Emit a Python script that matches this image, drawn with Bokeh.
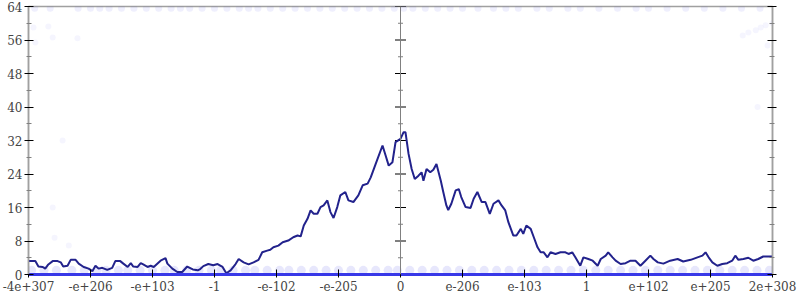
from bokeh.plotting import figure
from bokeh.models import Range1d, FixedTicker, LinearAxis, Span
from bokeh.embed import file_html
from bokeh.resources import INLINE

# ---- data ----
x_tick_pos = [0, 1, 2, 3, 4, 5, 6, 7, 8, 9, 10, 11, 12]
x_tick_labels = ["-4e+307", "-e+206", "-e+103", "-1", "-e-102", "-e-205", "0",
                 "e-206", "e-103", "1", "e+102", "e+205", "2e+308"]
y_major = [0, 8, 16, 24, 32, 40, 48, 56, 64]
y_minor = [4, 12, 20, 28, 36, 44, 52, 60]

line_x = [0.00, 0.11, 0.16, 0.23, 0.27, 0.32, 0.39, 0.47, 0.52, 0.56, 0.63, 0.68, 0.76, 0.81,
          0.89, 0.97, 1.03, 1.08, 1.13, 1.19, 1.27, 1.35, 1.40, 1.48, 1.53, 1.60, 1.65, 1.69,
          1.76, 1.81, 1.85, 1.92, 1.97, 2.02, 2.13, 2.21, 2.24, 2.32, 2.40, 2.48, 2.56, 2.65,
          2.73, 2.77, 2.82, 2.90, 2.98, 3.05, 3.13, 3.19, 3.26, 3.34, 3.39, 3.47, 3.55, 3.63,
          3.71, 3.77, 3.85, 3.90, 3.95, 4.03, 4.10, 4.19, 4.27, 4.34, 4.39, 4.44, 4.50, 4.55,
          4.60, 4.66, 4.71, 4.76, 4.82, 4.87, 4.92, 4.98, 5.03, 5.11, 5.16, 5.24, 5.32, 5.39,
          5.47, 5.52, 5.60, 5.71, 5.76, 5.81, 5.87, 5.92, 6.00, 6.05, 6.08, 6.13, 6.18, 6.23,
          6.29, 6.34, 6.37, 6.42, 6.48, 6.53, 6.58, 6.65, 6.69, 6.74, 6.77, 6.82, 6.89, 6.94,
          6.98, 7.05, 7.13, 7.18, 7.24, 7.31, 7.37, 7.44, 7.50, 7.58, 7.63, 7.69, 7.74, 7.82,
          7.87, 7.94, 7.98, 8.03, 8.10, 8.15, 8.21, 8.26, 8.31, 8.37, 8.42, 8.50, 8.58, 8.66,
          8.71, 8.77, 8.82, 8.90, 8.95, 9.03, 9.10, 9.18, 9.23, 9.31, 9.35, 9.42, 9.47, 9.55,
          9.63, 9.71, 9.79, 9.87, 9.95, 10.03, 10.08, 10.15, 10.24, 10.35, 10.47, 10.56, 10.68,
          10.79, 10.87, 10.92, 10.97, 11.03, 11.11, 11.19, 11.27, 11.35, 11.40, 11.45, 11.53,
          11.61, 11.69, 11.77, 11.85, 11.94, 12.00]
line_y = [3.2, 3.2, 1.9, 1.8, 1.4, 2.4, 3.2, 3.2, 2.9, 1.9, 2.1, 3.5, 3.5, 2.6,
          1.8, 1.4, 0.8, 2.1, 1.4, 1.6, 1.1, 1.6, 3.2, 3.2, 2.6, 1.8, 2.7, 1.9,
          1.8, 2.7, 2.4, 1.8, 2.1, 1.8, 3.3, 3.9, 2.6, 1.4, 0.6, 0.6, 1.9, 1.2,
          1.0, 1.3, 2.0, 2.5, 2.2, 2.5, 1.8, 0.3, 1.0, 2.5, 3.7, 2.9, 2.4, 2.9,
          3.5, 5.3, 5.7, 5.9, 6.5, 6.9, 7.7, 8.1, 8.9, 9.3, 9.1, 11.7, 13.3, 15.3,
          14.5, 14.5, 16.1, 16.5, 17.7, 14.9, 13.5, 16.1, 18.9, 19.7, 17.7, 17.3, 18.9, 21.3,
          21.7, 23.2, 26.4, 30.8, 28.4, 26.0, 26.8, 31.6, 32.4, 34.0, 34.0, 28.8, 25.2, 22.8,
          23.6, 24.4, 22.4, 25.2, 24.4, 25.0, 26.4, 22.4, 19.7, 16.5, 15.4, 16.9, 20.1, 20.4,
          18.5, 16.1, 15.9, 18.1, 19.7, 17.3, 17.3, 14.5, 16.9, 17.7, 16.5, 15.3, 12.5, 9.3,
          9.3, 10.9, 9.7, 11.7, 10.9, 8.9, 6.5, 5.3, 5.3, 4.1, 5.3, 4.9, 5.3, 5.3,
          4.9, 5.3, 4.1, 2.1, 4.1, 3.7, 3.3, 2.1, 3.7, 4.5, 5.3, 4.1, 3.3, 2.5,
          2.7, 3.3, 3.3, 2.1, 3.3, 4.5, 3.7, 2.9, 2.6, 3.3, 3.7, 3.1, 3.5,
          4.1, 4.5, 5.3, 4.1, 2.9, 2.1, 2.5, 2.7, 3.3, 4.5, 3.5, 3.7,
          4.0, 3.3, 3.7, 4.3, 4.3, 4.3]

# faint scattered points (samples) near the top and bottom edges, plus outliers
top_x = [0.10, 0.35, 0.80, 1.00, 1.15, 1.30, 1.50, 1.70, 1.90, 2.10, 2.30, 2.45, 2.60, 2.80,
         3.00, 3.20, 3.40, 3.55, 3.70, 3.90, 4.10, 4.30, 4.50, 4.70, 4.90, 5.10, 5.30, 5.50,
         5.70, 5.90, 6.05, 6.20, 6.40, 6.60, 6.80, 7.00, 7.25, 7.50, 7.70, 7.90, 8.20, 8.40,
         8.70, 8.90, 9.20, 9.50, 9.80, 10.00, 10.30, 10.60, 10.90, 11.20, 11.50, 11.80]
top_y = [63.6] * len(top_x)
low_x = [0.05, 0.25, 0.45, 0.70, 0.90, 1.10, 1.25, 1.45, 1.60, 1.80, 2.00, 2.20, 2.35, 2.55,
         2.75, 2.95, 3.10, 3.30, 3.50, 3.65, 3.85, 4.05, 4.20, 4.40, 4.60, 4.80, 5.00, 5.20,
         5.40, 5.60, 5.80, 5.95, 6.15, 6.35, 6.55, 6.75, 6.95, 7.15, 7.35, 7.55, 7.75, 7.95,
         8.15, 8.35, 8.55, 8.75, 8.95, 9.15, 9.35, 9.55, 9.75, 9.95, 10.15, 10.35, 10.55,
         10.75, 10.95, 11.15, 11.35, 11.55, 11.75, 11.95]
low_y = [1.0] * len(low_x)
out_x = [0.08, 0.32, 0.11, 0.39, 0.79, 0.39, 0.42, 0.65, 0.55,
         11.52, 11.61, 11.73, 11.81, 11.89, 12.00, 11.92, 11.76]
out_y = [59.0, 59.2, 55.4, 56.6, 56.4, 16.0, 8.8, 6.9, 32.0,
         57.1, 57.8, 58.3, 59.0, 59.5, 60.0, 54.7, 40.0]

# ---- styling ----
FONT = "DejaVu Serif"
GRAY = "#a0a0a0"
LINE_COLOR = "#22228c"
DOT_COLOR = "#3838e8"

p = figure(width=800, height=300, output_backend="svg", toolbar_location=None,
           x_range=Range1d(0, 12), y_range=Range1d(0, 64),
           min_border_left=28, min_border_right=28, min_border_top=6, min_border_bottom=26,
           background_fill_color="white", border_fill_color="white")
p.grid.visible = False
p.outline_line_color = GRAY
p.outline_line_width = 1.5

# left axis
ya = p.yaxis[0]
ya.ticker = FixedTicker(ticks=y_major, minor_ticks=y_minor)
ya.axis_line_color = GRAY
ya.axis_line_width = 1.5
ya.major_tick_in = 5
ya.major_tick_out = 4
ya.minor_tick_in = 3
ya.minor_tick_out = 2
ya.major_tick_line_color = "black"
ya.minor_tick_line_color = "#808080"
ya.major_label_text_font = FONT
ya.major_label_text_font_size = "12px"
ya.major_label_standoff = 2

# right axis (ticks only, no labels drawn)
ra = LinearAxis(ticker=FixedTicker(ticks=y_major, minor_ticks=y_minor))
ra.axis_line_color = GRAY
ra.axis_line_width = 1.5
ra.major_tick_in = 5
ra.major_tick_out = 4
ra.minor_tick_in = 3
ra.minor_tick_out = 2
ra.major_tick_line_color = "black"
ra.minor_tick_line_color = "#808080"
ra.major_label_text_color = None
p.add_layout(ra, "right")

# bottom axis
xa = p.xaxis[0]
xa.ticker = FixedTicker(ticks=x_tick_pos, minor_ticks=[])
xa.major_label_overrides = {t: l for t, l in zip(x_tick_pos, x_tick_labels)}
xa.axis_line_color = DOT_COLOR
xa.axis_line_width = 3
xa.major_tick_in = 5
xa.major_tick_out = 3
xa.major_tick_line_color = "black"
xa.major_label_text_font = FONT
xa.major_label_text_font_size = "12px"
xa.major_label_standoff = 3

# center vertical axis at "0"
center_x = x_tick_pos[x_tick_labels.index("0")]
p.add_layout(Span(location=center_x, dimension="height", line_color="#808080", line_width=1))
maj_half = 5.5 / 62.0
min_half = 2.5 / 62.0
p.segment(x0=[center_x - maj_half] * len(y_major), x1=[center_x + maj_half] * len(y_major),
          y0=y_major, y1=y_major, line_color="black", line_width=1)
p.segment(x0=[center_x - min_half] * len(y_minor), x1=[center_x + min_half] * len(y_minor),
          y0=y_minor, y1=y_minor, line_color="#808080", line_width=1)

# faint points
p.scatter(top_x, top_y, size=7, fill_color=DOT_COLOR, fill_alpha=0.08, line_color=None)
p.scatter(low_x, low_y, size=9, fill_color=DOT_COLOR, fill_alpha=0.12, line_color=None)
p.scatter(out_x, out_y, size=6, fill_color=DOT_COLOR, fill_alpha=0.05, line_color=None)

# main line
p.line(line_x, line_y, line_color=LINE_COLOR, line_width=2)

open("out.html", "w").write(file_html(p, INLINE))
